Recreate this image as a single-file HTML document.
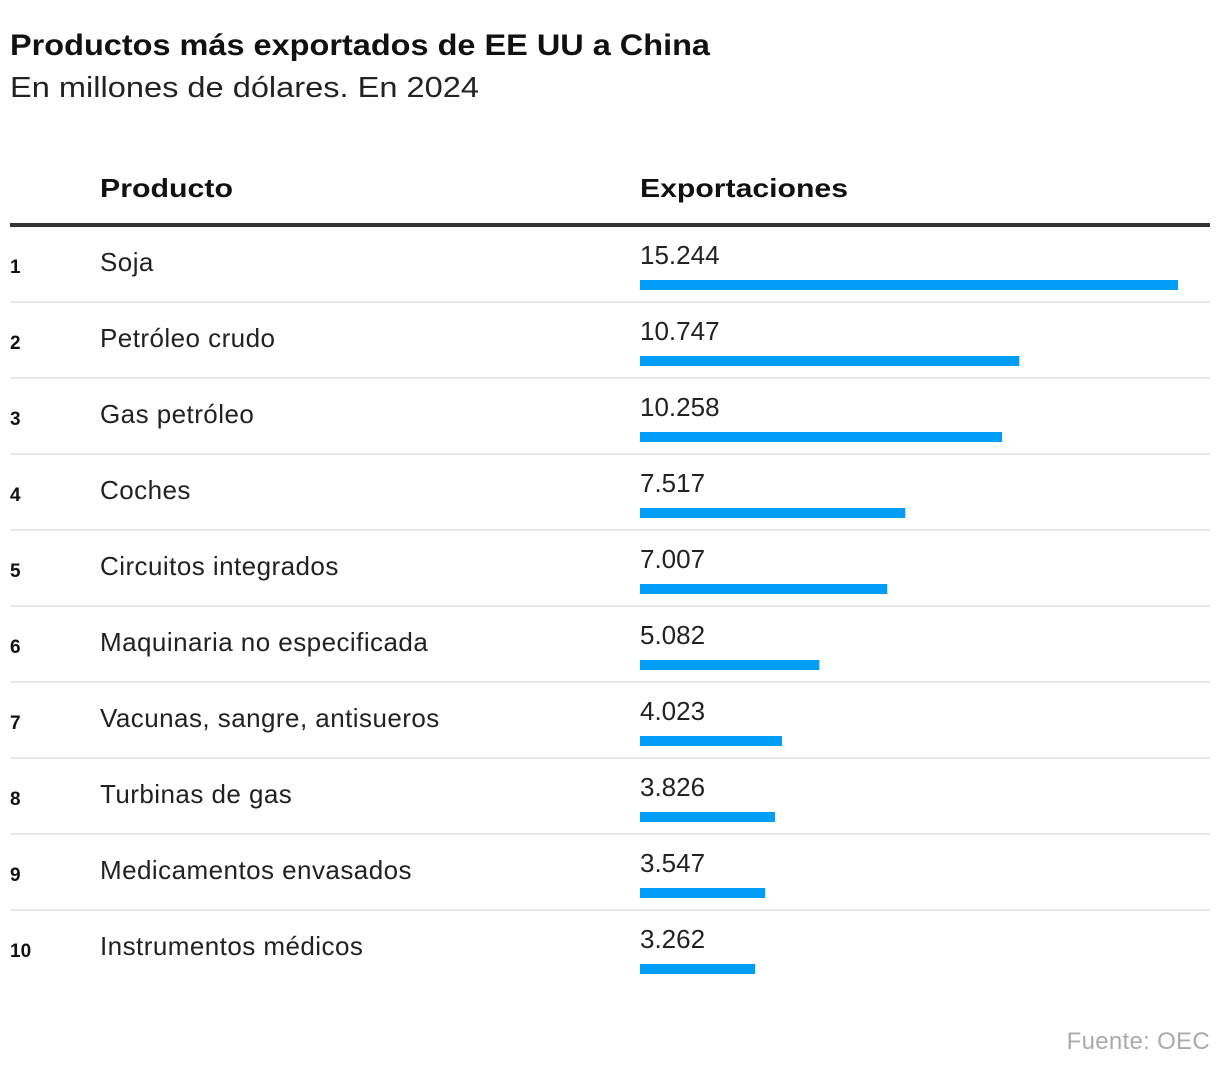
<!DOCTYPE html>
<html><head><meta charset="utf-8"><style>
html,body{margin:0;padding:0;background:#fff}
svg{display:block;font-family:"Liberation Sans",sans-serif}
</style></head><body>
<svg id="chart" width="1220" height="1070" viewBox="0 0 1220 1070">
<text x="10" y="55" font-size="30" font-weight="bold" fill="#111" textLength="700" lengthAdjust="spacingAndGlyphs">Productos más exportados de EE UU a China</text>
<text x="10" y="97" font-size="29" fill="#222" textLength="469" lengthAdjust="spacingAndGlyphs">En millones de dólares. En 2024</text>
<text x="100" y="197" font-size="26" font-weight="bold" fill="#111" textLength="133" lengthAdjust="spacingAndGlyphs">Producto</text>
<text x="640" y="197" font-size="26" font-weight="bold" fill="#111" textLength="208" lengthAdjust="spacingAndGlyphs">Exportaciones</text>
<rect x="10" y="223" width="1200" height="4" fill="#333"/>
<g id="rows"></g>
<text x="1210" y="1049" font-size="24" fill="#aaa" text-anchor="end" letter-spacing="0.3">Fuente: OEC</text>
</svg>
<script>
const products = ["Soja","Petróleo crudo","Gas petróleo","Coches","Circuitos integrados","Maquinaria no especificada","Vacunas, sangre, antisueros","Turbinas de gas","Medicamentos envasados","Instrumentos médicos"];
const values = [15244,10747,10258,7517,7007,5082,4023,3826,3547,3262];
const valueLabels = ["15.244","10.747","10.258","7.517","7.007","5.082","4.023","3.826","3.547","3.262"];
const NS="http://www.w3.org/2000/svg";
const g=document.getElementById('rows');
const x0=640, scale=538/15244;
function xw(v){return v*scale;}
function rowTop(i){return 226+76*i;}
function mk(tag,attrs,txt){const e=document.createElementNS(NS,tag);for(const k in attrs)e.setAttribute(k,attrs[k]);if(txt!=null)e.textContent=txt;g.appendChild(e);return e;}
products.forEach((p,i)=>{
  const t=rowTop(i);
  let e=mk('text',{x:10,y:t+47,'font-size':19,'font-weight':'bold',fill:'#111'},String(i+1));
  
  
  e=mk('text',{x:100,y:t+45,'font-size':26,'letter-spacing':0.45,fill:'#222'},p);
  
  
  e=mk('text',{x:640,y:t+38,'font-size':26,fill:'#222'},valueLabels[i]);
  
  
  e=mk('rect',{x:x0,y:t+54,width:xw(values[i]),height:10,fill:'#009ef7'});
  
  
  if(i<products.length-1){
    e=mk('rect',{x:10,y:t+75,width:1200,height:2,fill:'#e8e8e8'});
    
    
  }
});
</script>
</body></html>
